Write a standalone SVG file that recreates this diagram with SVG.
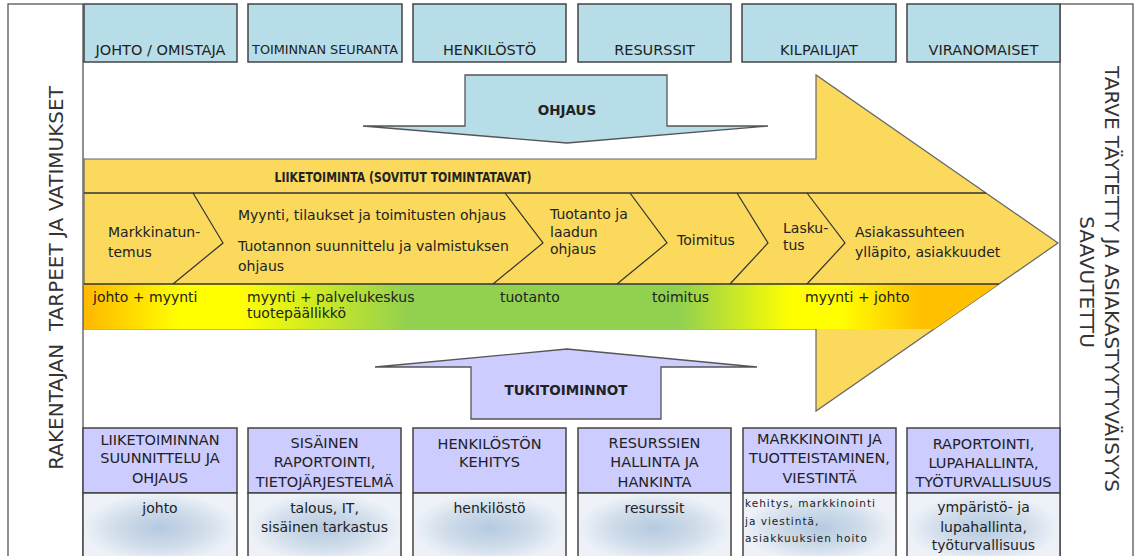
<svg xmlns="http://www.w3.org/2000/svg" width="1140" height="556" viewBox="0 0 1140 556">
<defs>
<style>
.t{font-family:"DejaVu Sans",Verdana,sans-serif;fill:#222;font-size:14px}
.c{text-anchor:middle}
.cap{font-size:14.5px}
.b{font-weight:bold}
.frame{fill:#fff;stroke:#555;stroke-width:1.3}
.topbox{fill:#B7DDE8;stroke:#444;stroke-width:1.5}
.hdr{fill:#CCCCFF;stroke:#444;stroke-width:1.5}
.body{fill:url(#blob);stroke:#444;stroke-width:1.5}
.chev{fill:none;stroke:#333;stroke-width:1.2}
.side{font-family:"DejaVu Sans",Verdana,sans-serif;fill:#333;font-size:20px;text-anchor:middle}
</style>
<radialGradient id="blob" cx="0.5" cy="0.5" r="0.5">
<stop offset="0" stop-color="#B5CAE0"/>
<stop offset="0.55" stop-color="#CFDCEA"/>
<stop offset="1" stop-color="#EEF2F8"/>
</radialGradient>
<linearGradient id="band" gradientUnits="userSpaceOnUse" x1="84" y1="0" x2="999" y2="0">
<stop offset="0" stop-color="#FFB800"/>
<stop offset="0.105" stop-color="#FFFF00"/>
<stop offset="0.17" stop-color="#FFFF00"/>
<stop offset="0.356" stop-color="#92D050"/>
<stop offset="0.651" stop-color="#92D050"/>
<stop offset="0.772" stop-color="#FFFF00"/>
<stop offset="0.826" stop-color="#FFFF00"/>
<stop offset="0.914" stop-color="#FFC000"/>
<stop offset="1" stop-color="#FFC000"/>
</linearGradient>
<clipPath id="arrowClip">
<polygon points="84,159 816,159 816,75 1058,243 816,411 816,329 84,329"/>
</clipPath>
</defs>
<rect width="1140" height="556" fill="#fff"/>

<g id="frame-left">
<rect class="frame" x="8" y="4" width="75" height="560"/>
<text class="side" xml:space="preserve" transform="translate(63,278) rotate(-90)">RAKENTAJAN  TARPEET JA VATIMUKSET</text>
</g>
<g id="frame-right">
<rect class="frame" x="1060" y="4" width="73" height="560"/>
<text class="side" transform="translate(1105,279) rotate(90)">TARVE TÄYTETTY JA ASIAKASTYYTYVÄISYYS</text>
<text class="side" transform="translate(1080,282) rotate(90)">SAAVUTETTU</text>
</g>

<g id="top-johto"><rect class="topbox" x="84" y="4" width="153" height="58"/><text class="t cap c" x="160.5" y="55">JOHTO / OMISTAJA</text></g>
<g id="top-seuranta"><rect class="topbox" x="248" y="4" width="154" height="58"/><text class="t c" style="font-size:12.8px" x="325" y="54">TOIMINNAN SEURANTA</text></g>
<g id="top-henkilosto"><rect class="topbox" x="413" y="4" width="153" height="58"/><text class="t cap c" x="489.5" y="55">HENKILÖSTÖ</text></g>
<g id="top-resurssit"><rect class="topbox" x="578" y="4" width="153" height="58"/><text class="t cap c" x="654.5" y="55">RESURSSIT</text></g>
<g id="top-kilpailijat"><rect class="topbox" x="742" y="4" width="154" height="58"/><text class="t cap c" x="819" y="55">KILPAILIJAT</text></g>
<g id="top-viranomaiset"><rect class="topbox" x="907" y="4" width="153" height="58"/><text class="t cap c" x="983.5" y="55">VIRANOMAISET</text></g>

<g id="liiketoiminta">
<polygon points="84,159 816,159 816,75 1058,243 816,411 816,329 84,329" fill="#FAD95D" stroke="#666" stroke-width="1.2"/>
<rect x="84" y="284" width="920" height="45" fill="url(#band)" clip-path="url(#arrowClip)"/>
<line x1="84" y1="193" x2="986" y2="193" stroke="#333" stroke-width="1.3"/>
<line x1="84" y1="284" x2="999" y2="284" stroke="#333" stroke-width="1.3"/>
<text class="t b c" x="403" y="182" textLength="257" lengthAdjust="spacingAndGlyphs" style="font-size:14.5px">LIIKETOIMINTA (SOVITUT TOIMINTATAVAT)</text>
<polyline class="chev" points="193,193 223,243 173,284"/>
<polyline class="chev" points="505,193 543,243 493,284"/>
<polyline class="chev" points="630,193 667,243 617,284"/>
<polyline class="chev" points="737,193 768,243 730,284"/>
<polyline class="chev" points="807,193 845,243 807,284"/>
<text class="t" x="108" y="237">Markkinatun-</text>
<text class="t" x="108" y="257">temus</text>
<text class="t" x="238" y="220">Myynti, tilaukset ja toimitusten ohjaus</text>
<text class="t" x="238" y="251">Tuotannon suunnittelu ja valmistuksen</text>
<text class="t" x="238" y="271">ohjaus</text>
<text class="t" x="550" y="219">Tuotanto ja</text>
<text class="t" x="550" y="237">laadun</text>
<text class="t" x="550" y="254">ohjaus</text>
<text class="t" x="677" y="245">Toimitus</text>
<text class="t" x="783" y="233">Lasku-</text>
<text class="t" x="783" y="250">tus</text>
<text class="t" x="855" y="237">Asiakassuhteen</text>
<text class="t" x="855" y="257">ylläpito, asiakkuudet</text>
<text class="t" x="93" y="302">johto + myynti</text>
<text class="t" x="247" y="302">myynti + palvelukeskus</text>
<text class="t" x="247" y="318">tuotepäällikkö</text>
<text class="t" x="500" y="302">tuotanto</text>
<text class="t" x="652" y="302">toimitus</text>
<text class="t" x="805" y="302">myynti + johto</text>
</g>

<g id="connectors">
<g id="ohjaus">
<polygon points="465,75 667,75 667,126 768,126 567,143 363,126 465,126" fill="#B7DDE8" stroke="#555" stroke-width="1.3"/>
<text class="t b c" style="font-size:13.5px" x="567" y="115">OHJAUS</text>
</g>
<g id="tukitoiminnot">
<polygon points="471,419 661,419 661,367 757,367 567,349 375,367 471,367" fill="#CCCCFF" stroke="#555" stroke-width="1.3"/>
<text class="t b c" style="font-size:13.5px" x="566" y="395">TUKITOIMINNOT</text>
</g>
</g>

<g id="bottom-liiketoiminnan">
<rect class="hdr" x="83" y="428" width="154" height="65"/>
<rect class="body" x="83" y="493" width="154" height="70"/>
<text class="t cap c" x="160" y="445">LIIKETOIMINNAN</text>
<text class="t cap c" x="160" y="463">SUUNNITTELU JA</text>
<text class="t cap c" x="160" y="483">OHJAUS</text>
<text class="t c" x="160" y="513">johto</text>
</g>
<g id="bottom-raportointi">
<rect class="hdr" x="248" y="428" width="153" height="65"/>
<rect class="body" x="248" y="493" width="153" height="70"/>
<text class="t cap c" x="324.5" y="448">SISÄINEN</text>
<text class="t cap c" x="324.5" y="467">RAPORTOINTI,</text>
<text class="t cap c" x="324.5" y="487">TIETOJÄRJESTELMÄ</text>
<text class="t c" x="324.5" y="513">talous, IT,</text>
<text class="t c" x="324.5" y="532">sisäinen tarkastus</text>
</g>
<g id="bottom-henkilosto">
<rect class="hdr" x="413" y="428" width="153" height="65"/>
<rect class="body" x="413" y="493" width="153" height="70"/>
<text class="t cap c" x="489.5" y="449">HENKILÖSTÖN</text>
<text class="t cap c" x="489.5" y="467">KEHITYS</text>
<text class="t c" x="489.5" y="513">henkilöstö</text>
</g>
<g id="bottom-resurssit">
<rect class="hdr" x="578" y="428" width="153" height="65"/>
<rect class="body" x="578" y="493" width="153" height="70"/>
<text class="t cap c" x="654.5" y="448">RESURSSIEN</text>
<text class="t cap c" x="654.5" y="467">HALLINTA JA</text>
<text class="t cap c" x="654.5" y="487">HANKINTA</text>
<text class="t c" x="654.5" y="513">resurssit</text>
</g>
<g id="bottom-markkinointi">
<rect class="hdr" x="743" y="428" width="153" height="65"/>
<rect class="body" x="743" y="493" width="153" height="70"/>
<text class="t cap c" x="819.5" y="444">MARKKINOINTI JA</text>
<text class="t cap c" x="819.5" y="463">TUOTTEISTAMINEN,</text>
<text class="t cap c" x="819.5" y="483">VIESTINTÄ</text>
<text class="t" style="font-size:10.5px;letter-spacing:1px" x="745" y="507">kehitys, markkinointi</text>
<text class="t" style="font-size:10.5px;letter-spacing:1px" x="745" y="525">ja viestintä,</text>
<text class="t" style="font-size:10.5px;letter-spacing:1px" x="745" y="542">asiakkuuksien hoito</text>
</g>
<g id="bottom-lupahallinta">
<rect class="hdr" x="907" y="428" width="153" height="65"/>
<rect class="body" x="907" y="493" width="153" height="70"/>
<text class="t cap c" x="983.5" y="449">RAPORTOINTI,</text>
<text class="t cap c" x="983.5" y="468">LUPAHALLINTA,</text>
<text class="t cap c" x="983.5" y="487">TYÖTURVALLISUUS</text>
<text class="t c" x="983.5" y="512">ympäristö- ja</text>
<text class="t c" x="983.5" y="532">lupahallinta,</text>
<text class="t c" x="983.5" y="550">työturvallisuus</text>
</g>
</svg>
